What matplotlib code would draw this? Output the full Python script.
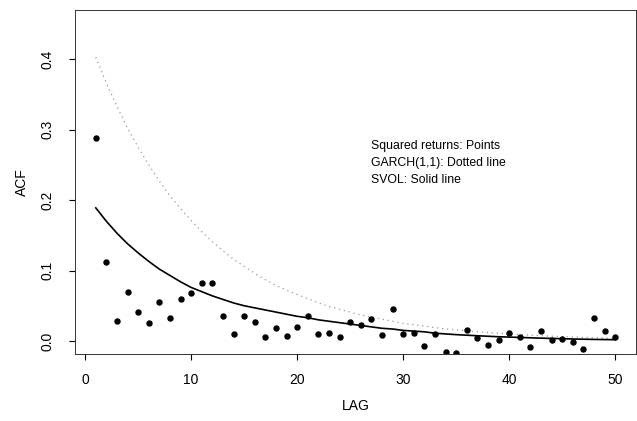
import matplotlib
matplotlib.use("Agg")
import matplotlib.pyplot as plt
import numpy as np

plt.rcParams['font.family'] = ['Liberation Sans', 'DejaVu Sans']

lags = list(range(1, 51))

sq_returns = [0.288, 0.112, 0.028, 0.069, 0.041, 0.026, 0.055, 0.033, 0.060, 0.068,
              0.082, 0.082, 0.035, 0.010, 0.035, 0.027, 0.005, 0.018, 0.007, 0.020,
              0.035, 0.010, 0.012, 0.006, 0.027, 0.022, 0.031, 0.008, 0.045, 0.010,
              0.011, -0.007, 0.010, -0.015, -0.017, 0.016, 0.004, -0.006, 0.001, 0.012,
              0.005, -0.009, 0.014, 0.001, 0.003, -0.002, -0.012, 0.033, 0.014, 0.006]

garch = [0.403, 0.366, 0.333, 0.302, 0.275, 0.250, 0.227, 0.206, 0.188, 0.171,
         0.155, 0.141, 0.128, 0.116, 0.106, 0.096, 0.087, 0.079, 0.072, 0.066,
         0.060, 0.054, 0.049, 0.045, 0.041, 0.037, 0.034, 0.031, 0.028, 0.025,
         0.023, 0.021, 0.019, 0.017, 0.016, 0.014, 0.013, 0.012, 0.011, 0.010,
         0.0090, 0.0082, 0.0074, 0.0068, 0.0062, 0.0056, 0.0051, 0.0046, 0.0042, 0.0038]

svol = [0.189, 0.170, 0.153, 0.138, 0.125, 0.113, 0.102, 0.093, 0.084, 0.076,
        0.070, 0.064, 0.059, 0.054, 0.050, 0.047, 0.044, 0.041, 0.038, 0.035,
        0.033, 0.030, 0.028, 0.026, 0.024, 0.022, 0.020, 0.018, 0.017, 0.015,
        0.014, 0.013, 0.011, 0.010, 0.009, 0.0082, 0.0074, 0.0067, 0.006, 0.0055,
        0.005, 0.0045, 0.004, 0.0036, 0.0032, 0.0028, 0.0025, 0.0022, 0.002, 0.0018]

xticks = [0, 10, 20, 30, 40, 50]
yticks = [0.0, 0.1, 0.2, 0.3, 0.4]
legend_lines = ["Squared returns: Points", "GARCH(1,1): Dotted line", "SVOL: Solid line"]

fig = plt.figure(figsize=(6.37, 4.21), dpi=100)
ax = fig.add_axes([75/637, 1-354/421, (636-75)/637, (354-10)/421])

ax.plot(lags, garch, color='#999999', linestyle=(0, (1, 3)), linewidth=0.9)
ax.plot(lags, svol, color='black', linewidth=1.2)
ax.plot(lags, sq_returns, linestyle='none', marker='o', markersize=3.6,
        color='black')

ax.set_xlim(-0.96, 51.96)
ax.set_ylim(-0.0185, 0.470)
ax.set_xticks(xticks)
ax.set_xticklabels([str(t) for t in xticks])
ax.set_yticks(yticks)
ax.set_yticklabels([f"{t:.1f}" for t in yticks], rotation=90, va='center')

ax.tick_params(direction='out', length=4, width=0.8, labelsize=10)
ax.tick_params(axis='x', pad=10)
ax.tick_params(axis='y', pad=11)
for s in ax.spines.values():
    s.set_linewidth(0.7)
    s.set_color('#333333')

ax.set_xlabel("LAG", fontsize=10, labelpad=8)
ax.set_ylabel("ACF", fontsize=10, labelpad=8)

for i, t in enumerate(legend_lines):
    ax.text(27.0, 0.277 - i*0.0245, t, fontsize=8.8, va='center', ha='left')

fig.savefig("out.png", dpi=100)
